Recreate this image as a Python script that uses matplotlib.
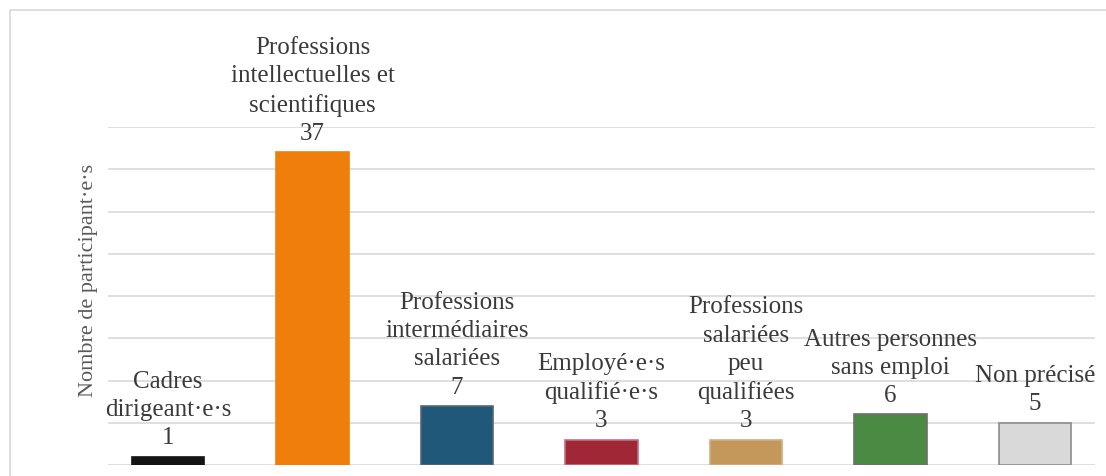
import matplotlib.pyplot as plt
from matplotlib.patches import Rectangle

categories = ["Cadres\ndirigeant·e·s",
              "Professions\nintellectuelles et\nscientifiques",
              "Professions\nintermédiaires\nsalariées",
              "Employé·e·s\nqualifié·e·s",
              "Professions\nsalariées\npeu\nqualifiées",
              "Autres personnes\nsans emploi",
              "Non précisé"]
values = [1, 37, 7, 3, 3, 6, 5]
colors = ['#141414', '#ef7f0a', '#1f5878', '#a02836', '#c4975a', '#4b8a43', '#d9d9d9']
edges = ['#141414', '#ef7f0a', '#5a6670', '#c07080', '#d0b080', '#707070', '#8c8c8c']

W, H = 1106, 477
fig = plt.figure(figsize=(W / 100, H / 100), dpi=100)
plt.rcParams['font.family'] = ['Liberation Serif', 'DejaVu Serif']

# outer chart frame
fig.patches.append(Rectangle((9.5 / W, -0.1), 1.2, 1 - 11 / H + 0.1, transform=fig.transFigure,
                             fill=False, edgecolor='#d9d9d9', linewidth=1.2))

ax = fig.add_axes([108 / W, 1 - 466 / H, (1095 - 108) / W, (466 - 128) / H])
x = range(len(values))
ax.bar(x, values, width=0.5, color=colors, edgecolor=edges, linewidth=1.2, zorder=3)
ax.set_xlim(-0.415, len(values) - 1 + 0.415)
ax.set_ylim(0, 40)
ax.set_yticks(range(0, 41, 5))
ax.yaxis.grid(True, color='#d9d9d9', linewidth=1.2, zorder=0)
ax.tick_params(left=False, bottom=False, labelleft=False, labelbottom=False)
for s in ax.spines.values():
    s.set_visible(False)

for i, (cat, v) in enumerate(zip(categories, values)):
    ax.annotate(cat + "\n" + str(v), (i, v), xytext=(0, 6), textcoords='offset points',
                ha='center', va='bottom', fontsize=18, color='#3a3a3a',
                linespacing=1.36, annotation_clip=False, zorder=4)

fig.text(88 / W, 1 - 280 / H, "Nombre de participant·e·s", rotation=90, ha='center', va='center',
         fontsize=16, color='#595959')

fig.savefig("out.png", dpi=100)
